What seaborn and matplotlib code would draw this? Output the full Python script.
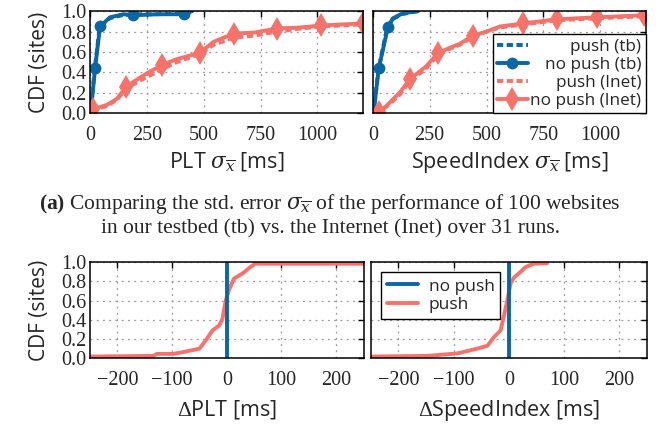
import matplotlib
matplotlib.use('Agg')
import matplotlib.pyplot as plt
import seaborn as sns

# ---- data (CDF curves) ----
# (a) std. error of PLT, testbed vs Internet
plt_tb_nopush_x = [3, 22, 44, 88, 147, 191, 300, 412, 449]
plt_tb_nopush_y = [0.0, 0.44, 0.85, 0.94, 0.97, 0.96, 0.97, 0.97, 1.0]
plt_tb_nopush_marks = [1, 2, 5, 7]
plt_tb_push_x = [3, 20, 42, 85, 140, 200, 300, 420, 455]
plt_tb_push_y = [0.0, 0.42, 0.84, 0.93, 0.96, 0.97, 0.97, 0.98, 1.0]

plt_inet_nopush_x = [7, 15, 74, 118, 159, 221, 265, 316, 382, 482, 544, 632, 721, 824, 926, 1018, 1199]
plt_inet_nopush_y = [0.02, 0.04, 0.08, 0.14, 0.26, 0.35, 0.41, 0.47, 0.53, 0.59, 0.70, 0.78, 0.79, 0.83, 0.84, 0.86, 0.88]
plt_inet_nopush_marks = [1, 4, 7, 9, 11, 13, 15, 16]
plt_inet_push_x = [7, 74, 118, 159, 221, 265, 316, 382, 482, 544, 632, 721, 824, 926, 1018, 1199]
plt_inet_push_y = [0.02, 0.07, 0.13, 0.24, 0.32, 0.37, 0.43, 0.50, 0.58, 0.67, 0.74, 0.76, 0.80, 0.83, 0.85, 0.87]

# (a) std. error of SpeedIndex
si_tb_nopush_x = [3, 26, 66, 88, 132, 199]
si_tb_nopush_y = [0.0, 0.44, 0.84, 0.93, 0.98, 1.0]
si_tb_nopush_marks = [1, 2]
si_tb_push_x = [3, 24, 62, 85, 128, 195]
si_tb_push_y = [0.0, 0.42, 0.83, 0.92, 0.97, 1.0]

si_inet_nopush_x = [10, 29, 59, 118, 162, 235, 287, 338, 382, 441, 500, 559, 662, 809, 985, 1191]
si_inet_nopush_y = [0.0, 0.01, 0.07, 0.20, 0.33, 0.46, 0.59, 0.64, 0.68, 0.76, 0.80, 0.85, 0.88, 0.92, 0.94, 0.96]
si_inet_nopush_marks = [1, 4, 6, 9, 12, 13, 14, 15]
si_inet_push_x = [10, 59, 118, 162, 235, 287, 338, 382, 441, 500, 559, 662, 809, 985, 1191]
si_inet_push_y = [0.0, 0.06, 0.18, 0.31, 0.44, 0.57, 0.63, 0.67, 0.75, 0.80, 0.84, 0.87, 0.91, 0.93, 0.95]

# (b) per-site difference push - no push
dplt_x = [-250, -134, -128, -98, -74, -50, -38, -26, -14, -8, -2, 4, 13, 28, 43, 52, 250]
dplt_y = [0.017, 0.024, 0.045, 0.045, 0.07, 0.10, 0.19, 0.29, 0.34, 0.41, 0.60, 0.71, 0.83, 0.88, 0.95, 0.985, 0.985]
dsi_x = [-250, -147, -93, -57, -39, -27, -15, -8, -3, 3, 9, 21, 30, 45, 69]
dsi_y = [0.017, 0.024, 0.05, 0.10, 0.13, 0.22, 0.29, 0.47, 0.60, 0.78, 0.84, 0.90, 0.95, 0.985, 0.99]
nopush_diff_x = [0, 0]
nopush_diff_y = [0.0, 1.0]

BLUE = '#0b66a6'
RED = '#f6736c'

sns.set_style('white')
plt.rcParams['font.family'] = ['Open Sans', 'DejaVu Sans']
plt.rcParams['mathtext.fontset'] = 'custom'
plt.rcParams['mathtext.rm'] = 'Liberation Serif'
plt.rcParams['mathtext.it'] = 'DejaVu Serif:italic'
plt.rcParams['mathtext.bf'] = 'Liberation Serif:bold'
plt.rcParams['axes.unicode_minus'] = True

fig = plt.figure(figsize=(6.67, 4.30), dpi=100)
ax1 = fig.add_axes([0.135, 0.737, 0.409, 0.237])
ax2 = fig.add_axes([0.559, 0.737, 0.409, 0.237])
ax3 = fig.add_axes([0.135, 0.167, 0.410, 0.223])
ax4 = fig.add_axes([0.556, 0.167, 0.414, 0.223])

LW = 2.8
dot = (1.6, 0.9)
TICK_FS = 14.5
XLAB_FS = 15.5
YLAB_FS = 15


def curve(ax, x, y, color, label=None, marker=None, marks=None, dashes=None, ms=8.5):
    kw = dict(x=x, y=y, ax=ax, color=color, lw=LW, estimator=None, sort=False,
              label=label, legend=False)
    if marker:
        kw.update(marker=marker, markevery=marks, markersize=ms, markeredgewidth=0)
    line = sns.lineplot(**kw).lines[-1]
    if dashes:
        line.set_dashes(dashes)
    return line


# top-left: PLT
curve(ax1, plt_tb_push_x, plt_tb_push_y, BLUE, dashes=dot)
curve(ax1, plt_tb_nopush_x, plt_tb_nopush_y, BLUE, marker='o', marks=plt_tb_nopush_marks)
curve(ax1, plt_inet_push_x, plt_inet_push_y, RED, dashes=dot)
curve(ax1, plt_inet_nopush_x, plt_inet_nopush_y, RED, marker='d', marks=plt_inet_nopush_marks, ms=12)

# top-right: SpeedIndex
h1 = curve(ax2, si_tb_push_x, si_tb_push_y, BLUE, label='push (tb)', dashes=dot)
h2 = curve(ax2, si_tb_nopush_x, si_tb_nopush_y, BLUE, label='no push (tb)', marker='o', marks=si_tb_nopush_marks)
h3 = curve(ax2, si_inet_push_x, si_inet_push_y, RED, label='push (Inet)', dashes=dot)
h4 = curve(ax2, si_inet_nopush_x, si_inet_nopush_y, RED, label='no push (Inet)', marker='d',
           marks=si_inet_nopush_marks, ms=12)

# bottom: differences
curve(ax3, dplt_x, dplt_y, RED)
curve(ax3, nopush_diff_x, nopush_diff_y, BLUE)
b1 = curve(ax4, dsi_x, dsi_y, RED, label='push')
b2 = curve(ax4, nopush_diff_x, nopush_diff_y, BLUE, label='no push')

for ax in (ax1, ax2, ax3, ax4):
    ax.set_ylim(0, 1.0)
    ax.set_yticks([0, 0.2, 0.4, 0.6, 0.8, 1.0])
    ax.grid(True, color='#9a9a9a', lw=0.9, linestyle=(0, (1.5, 3.5)))
    ax.tick_params(direction='in', top=True, right=True, length=4, width=1, color='black',
                   labelsize=TICK_FS, labelfontfamily='Liberation Serif')
    ax.tick_params(axis='x', pad=9)
    ax.tick_params(axis='y', pad=2.5)
    for s in ax.spines.values():
        s.set_color('black')
        s.set_linewidth(1.1)
    ax.set_ylabel('')

for ax in (ax1, ax2):
    ax.set_xlim(0, 1200)
    ax.set_xticks([0, 250, 500, 750, 1000])
for ax in (ax3, ax4):
    ax.set_xlim(-250, 250)
    ax.set_xticks([-200, -100, 0, 100, 200])

ax2.tick_params(labelleft=False)
ax4.tick_params(labelleft=False)

ax1.set_ylabel('CDF (sites)', fontsize=YLAB_FS, labelpad=8)
ax3.set_ylabel('CDF (sites)', fontsize=YLAB_FS, labelpad=8)
ax1.set_xlabel(r'PLT $\sigma_{\overline{x}}$ [ms]', fontsize=XLAB_FS, labelpad=4)
ax2.set_xlabel(r'SpeedIndex $\sigma_{\overline{x}}$ [ms]', fontsize=XLAB_FS, labelpad=4)
ax3.set_xlabel(r'$\Delta$PLT [ms]', fontsize=XLAB_FS, labelpad=6)
ax4.set_xlabel(r'$\Delta$SpeedIndex [ms]', fontsize=XLAB_FS, labelpad=6)

leg = ax2.legend(handles=[h1, h2, h3, h4], loc='lower right', borderaxespad=0, fontsize=12.3,
                 frameon=True, fancybox=False, edgecolor='black', framealpha=1,
                 handlelength=1.8, handletextpad=0.15, labelspacing=0.12, borderpad=0.25)
leg.get_frame().set_linewidth(1.0)
leg2 = ax4.legend(handles=[b2, b1], loc='upper left', fontsize=12.5, frameon=True, fancybox=False,
                  edgecolor='black', framealpha=1, handlelength=1.8, handletextpad=0.6,
                  labelspacing=0.15, borderpad=0.35, borderaxespad=0,
                  bbox_to_anchor=(0.036, 0.896))
leg2.get_frame().set_linewidth(1.0)

# right-align the entries of the upper legend
fig.canvas.draw()
renderer = fig.canvas.get_renderer()
widths = [t.get_window_extent(renderer).width for t in leg.get_texts()]
for t, w in zip(leg.get_texts(), widths):
    t.set_position((max(widths) - w, 0))

fig.text(0.495, 0.514, r'$\mathbf{(a)}$ Comparing the std. error $\sigma_{\overline{x}}$ of the performance of 100 websites',
         ha='center', va='baseline', fontsize=15.5, family='Liberation Serif')
fig.text(0.495, 0.456, 'in our testbed (tb) vs. the Internet (Inet) over 31 runs.',
         ha='center', va='baseline', fontsize=15.5, family='Liberation Serif')

fig.savefig('out.png', dpi=100)
